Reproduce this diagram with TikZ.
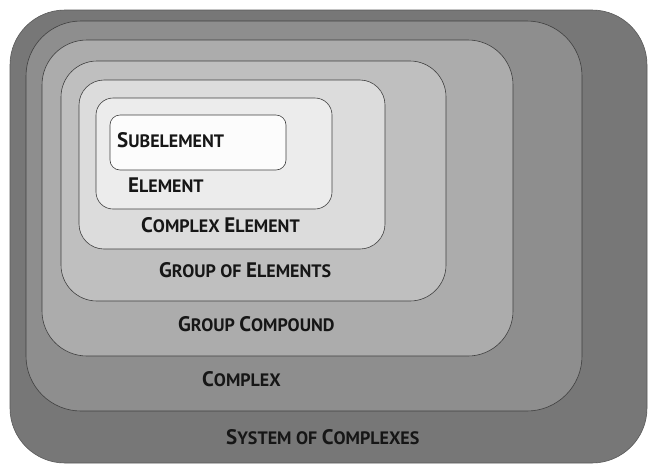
\documentclass[tikz,border=0pt]{standalone}
\usepackage{fontspec}
\setmainfont{PT Sans}
\newcommand\capL[1]{{\fontsize{21}{21}\selectfont #1}}
\newcommand\capS[1]{{\fontsize{18}{18}\selectfont #1}}
\definecolor{cSys}{HTML}{777777}
\definecolor{cCpx}{HTML}{8E8E8E}
\definecolor{cGC}{HTML}{ACACAC}
\definecolor{cGoE}{HTML}{BFBFBF}
\definecolor{cCE}{HTML}{DCDCDC}
\definecolor{cEl}{HTML}{ECECEC}
\definecolor{cSub}{HTML}{FCFCFC}
\definecolor{cTxt}{HTML}{161616}
\tikzset{
  box/.style={draw=black!75, line width=0.6pt, inner sep=0pt, outer sep=0pt, rectangle},
  lbl/.style={anchor=west, inner sep=0pt, text=cTxt, font=\bfseries}
}
\begin{document}
\begin{tikzpicture}[x=1pt,y=-1pt]
\useasboundingbox (0,0) rectangle (648,467);
% boxes
\node[box, draw=black!65, fill=cSys, rounded corners=55pt, minimum width=637pt, minimum height=453pt] (sys) at (328.5,236.5) {};
\node[box, fill=cCpx, rounded corners=55pt, minimum width=556pt, minimum height=390pt] (cpx) at (304,216) {};
\node[box, fill=cGC, rounded corners=45pt, minimum width=471pt, minimum height=316pt] (gc) at (277.5,198) {};
\node[box, fill=cGoE, rounded corners=36pt, minimum width=385pt, minimum height=240pt] (goe) at (253.5,181) {};
\node[box, fill=cCE, rounded corners=25pt, minimum width=306pt, minimum height=169pt] (ce) at (232,164.5) {};
\node[box, fill=cEl, rounded corners=17pt, minimum width=236pt, minimum height=111pt] (el) at (214,153.5) {};
\node[box, fill=cSub, rounded corners=10pt, minimum width=176pt, minimum height=55pt] (sub) at (198,142.5) {};
% labels
\node[lbl] (tsub) at (117,140) {\capL{S}\capS{UBELEMENT}};
\node[lbl] (tel) at (128,185) {\capL{E}\capS{LEMENT}};
\node[lbl] (tce) at (141,225) {\capL{C}\capS{OMPLEX }\capL{E}\capS{LEMENT}};
\node[lbl] (tgoe) at (159,270) {\capL{G}\capS{ROUP OF }\capL{E}\capS{LEMENTS}};
\node[lbl] (tgc) at (178,324) {\capL{G}\capS{ROUP }\capL{C}\capS{OMPOUND}};
\node[lbl] (tcpx) at (202,379) {\capL{C}\capS{OMPLEX}};
\node[lbl] (tsys) at (226,437) {\capL{S}\capS{YSTEM OF }\capL{C}\capS{OMPLEXES}};
\end{tikzpicture}
\end{document}
